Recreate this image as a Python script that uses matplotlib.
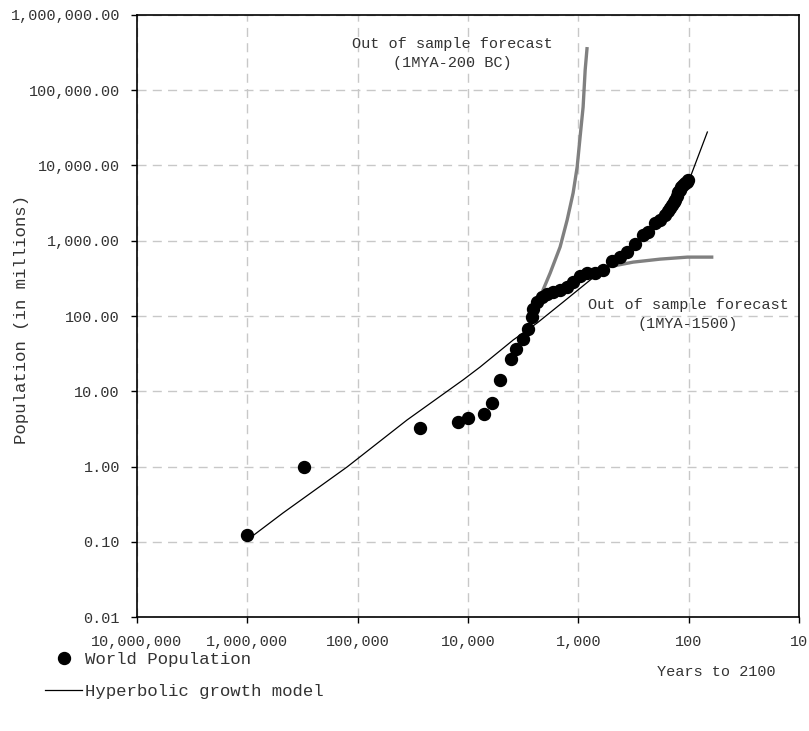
import numpy as np
import matplotlib
matplotlib.use('Agg')
import matplotlib.pyplot as plt
from matplotlib.ticker import FixedLocator, FuncFormatter
from matplotlib.lines import Line2D

plt.rcParams['font.family'] = ['Liberation Mono', 'DejaVu Sans Mono']

# world population observations (years to 2100, millions)
obs_years = [1000000, 305000, 27200, 12300, 10000, 7140, 6050, 5100, 4070, 3660,
             3170, 2860, 2630, 2575, 2370, 2130, 1920, 1700, 1465, 1265,
             1117, 966, 834, 705, 597, 494, 418, 361, 306, 259,
             233, 202, 182, 164, 155, 148, 142, 137, 133, 129,
             125, 121, 117, 113, 109, 105, 101]
obs_pop = [0.124, 0.99, 3.26, 3.92, 4.43, 5.0, 7.0, 14.2, 26.9, 36.6,
           49.6, 67.3, 97, 124, 154, 179, 196, 209, 222, 243,
           283, 340, 373, 373, 408, 532, 601, 708, 904, 1191,
           1304, 1717, 1884, 2194, 2450, 2716, 3000, 3250, 3467, 3900,
           4430, 4750, 5100, 5480, 5750, 6050, 6380]

# hyperbolic growth model
model_years = [1000000, 473000, 124500, 35600, 11070, 7780, 3900, 2365, 1377,
               783, 550, 300, 200, 150, 120, 97, 68]
model_pop = [0.106, 0.243, 0.99, 4.17, 14.2, 21.0, 48, 80.8, 153,
             300, 445, 950, 1700, 2650, 4300, 7000, 27700]

# out of sample forecast fitted on 1MYA-200 BC
fc1_years = [2300, 2224, 1803, 1465, 1265, 1117, 1027, 966, 907, 869, 834]
fc1_pop = [150, 179, 372, 826, 1884, 4295, 9506, 23770, 59600, 184500, 372000]

# out of sample forecast fitted on 1MYA-1500
fc2_years = [600, 550, 320, 182, 103, 60]
fc2_pop = [425, 445, 519, 569, 605, 605]

xticks = [1e7, 1e6, 1e5, 1e4, 1e3, 1e2, 1e1]
yticks = [1e-2, 1e-1, 1, 10, 100, 1e3, 1e4, 1e5, 1e6]

txt = '#333333'

fig = plt.figure(figsize=(8.09, 7.31), dpi=100)
ax = fig.add_axes([136.7/809, 1-617.3/731, 662.6/809, 602.6/731])

ax.plot(fc1_years, fc1_pop, color='#808080', lw=2.4, solid_capstyle='butt', zorder=2)
ax.plot(fc2_years, fc2_pop, color='#808080', lw=2.4, solid_capstyle='butt', zorder=2)
ax.plot(model_years, model_pop, color='black', lw=0.9, zorder=3)
ax.plot(obs_years, obs_pop, 'o', color='black', ms=8.6, zorder=4)

ax.set_xscale('log')
ax.set_yscale('log')
ax.set_xlim(1e7, 10)
ax.set_ylim(0.01, 1e6)

ax.xaxis.set_major_locator(FixedLocator(xticks))
ax.yaxis.set_major_locator(FixedLocator(yticks))
ax.xaxis.set_minor_locator(FixedLocator([]))
ax.yaxis.set_minor_locator(FixedLocator([]))
ax.xaxis.set_major_formatter(FuncFormatter(lambda v, p: '{:,.0f}'.format(v)))
ax.yaxis.set_major_formatter(FuncFormatter(lambda v, p: '{:,.2f}'.format(v)))

ax.tick_params(axis='both', direction='out', length=4.5, width=1, colors='black',
               labelcolor=txt, labelsize=11)
ax.tick_params(axis='y', pad=7.5)
ax.tick_params(axis='x', pad=8)

ax.grid(True, color='#c8c8c8', lw=1, linestyle=(0, (6.5, 4.5)))
ax.set_axisbelow(True)
for s in ax.spines.values():
    s.set_linewidth(1.2)

ax.text(0.4765, 0.935, 'Out of sample forecast\n(1MYA-200 BC)', transform=ax.transAxes,
        ha='center', va='center', fontsize=11, color=txt, linespacing=1.45, zorder=5)
ax.text(0.832, 0.5025, 'Out of sample forecast\n(1MYA-1500)', transform=ax.transAxes,
        ha='center', va='center', fontsize=11, color=txt, linespacing=1.4, zorder=5)

fig.text(776/809, 1-672/731, 'Years to 2100', ha='right', va='center', fontsize=11, color=txt)
fig.text(22/809, 1-319.5/731, 'Population (in millions)', rotation=90, ha='center',
         va='center', fontsize=12.5, color=txt)

handles = [Line2D([], [], marker='o', color='black', ls='none', ms=8.6),
           Line2D([], [], color='black', lw=0.9)]
fig.legend(handles, ['World Population', 'Hyperbolic growth model'],
           loc='upper left', bbox_to_anchor=(45/809, 1-652/731), frameon=False,
           fontsize=12.5, handlelength=2.15, handletextpad=0.15, labelspacing=0.95,
           borderpad=0, borderaxespad=0, labelcolor=txt)

fig.savefig('out.png', dpi=100)
